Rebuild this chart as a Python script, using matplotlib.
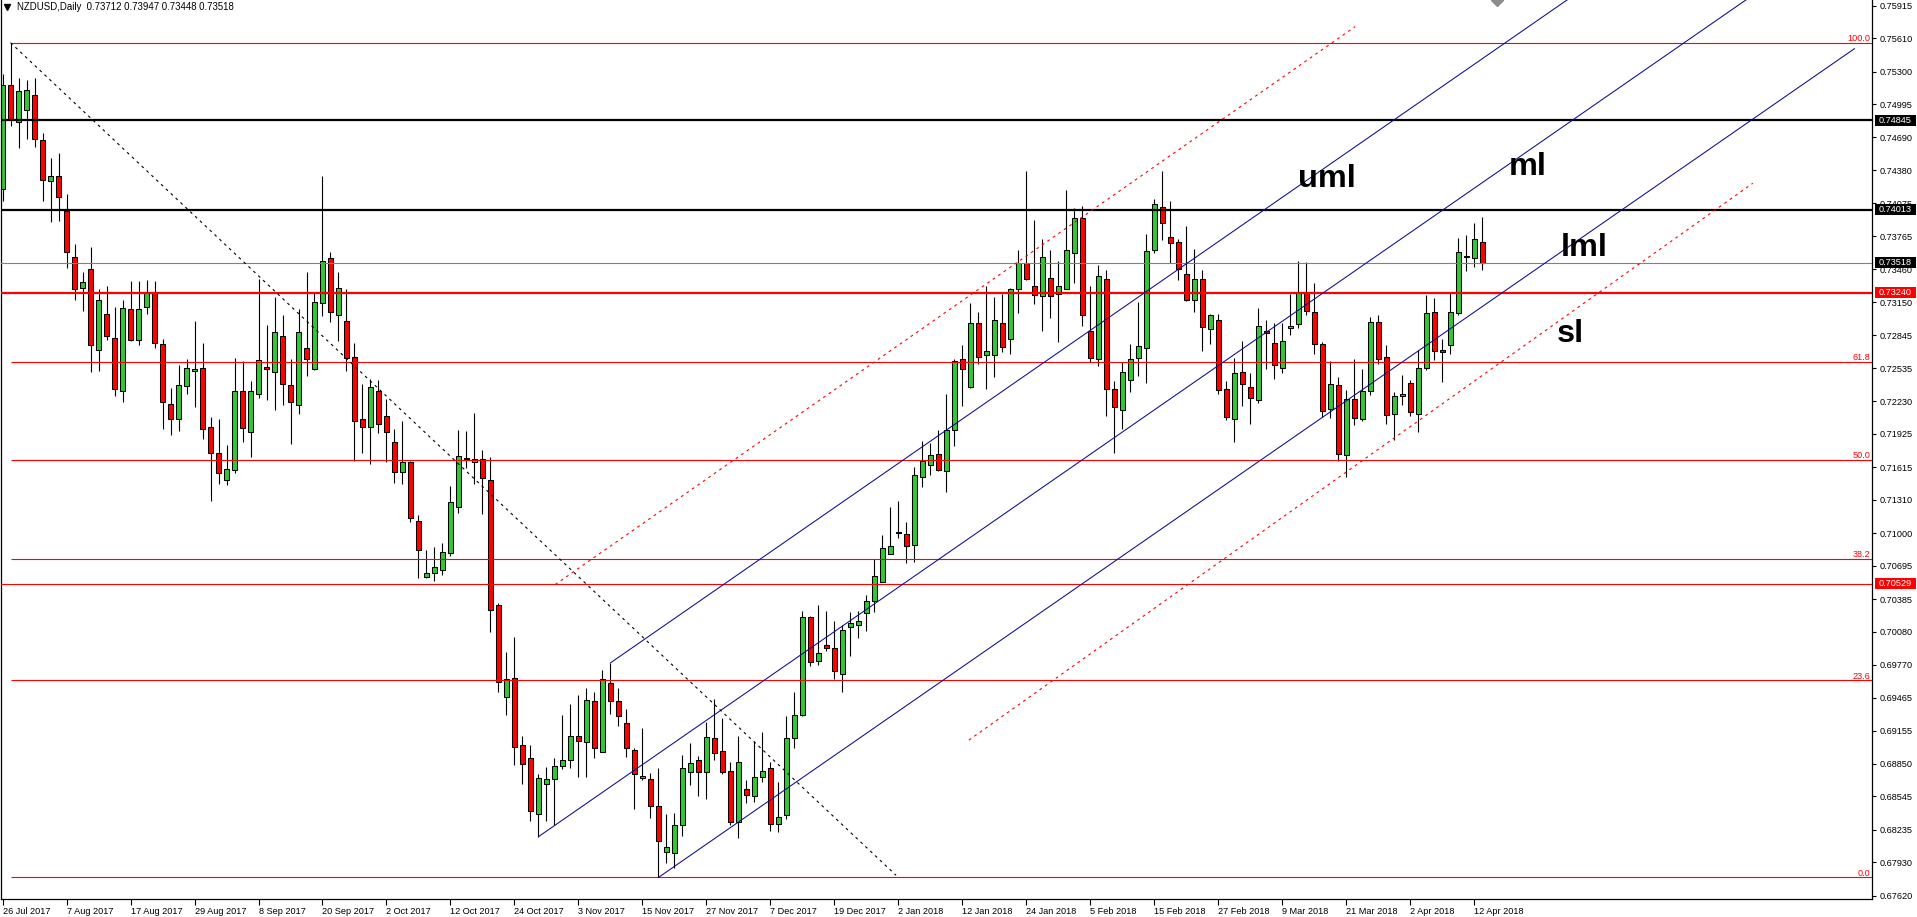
import matplotlib.pyplot as plt
from matplotlib.patches import Rectangle
import numpy as np

plt.rcParams['font.family'] = ['Liberation Sans', 'DejaVu Sans']

# daily candles, 26 Jul 2017 .. 13 Apr 2018
opens = [0.7421, 0.7518, 0.7483, 0.7494, 0.7508, 0.7466, 0.7428, 0.7433, 0.7400, 0.7357,
         0.7328, 0.7346, 0.7271, 0.7304, 0.7282, 0.7232, 0.7309, 0.7280, 0.7311, 0.7325,
         0.7276, 0.7220, 0.7206, 0.7237, 0.7251, 0.7254, 0.7199, 0.7175, 0.7149, 0.7159,
         0.7232, 0.7194, 0.7230, 0.7255, 0.7250, 0.7284, 0.7238, 0.7219, 0.7272, 0.7253,
         0.7314, 0.7356, 0.7303, 0.7298, 0.7264, 0.7206, 0.7199, 0.7232, 0.7209, 0.7185,
         0.7157, 0.7166, 0.7111, 0.7059, 0.7063, 0.7066, 0.7081, 0.7124, 0.7170, 0.7166,
         0.7169, 0.7149, 0.7033, 0.6947, 0.6965, 0.6902, 0.6890, 0.6838, 0.6866, 0.6871,
         0.6883, 0.6888, 0.6911, 0.6905, 0.6943, 0.6896, 0.6960, 0.6943, 0.6923, 0.6898,
         0.6872, 0.6871, 0.6846, 0.6803, 0.6802, 0.6828, 0.6877, 0.6888, 0.6877, 0.6909,
         0.6897, 0.6878, 0.6831, 0.6861, 0.6855, 0.6873, 0.6881, 0.6829, 0.6837, 0.6909,
         0.6930, 0.7022, 0.6981, 0.6996, 0.6993, 0.6969, 0.7012, 0.7014, 0.7025, 0.7037,
         0.7054, 0.7080, 0.7101, 0.7099, 0.7089, 0.7152, 0.7163, 0.7174, 0.7158, 0.7196,
         0.7262, 0.7236, 0.7296, 0.7266, 0.7266, 0.7296, 0.7281, 0.7327, 0.7352, 0.7330,
         0.7321, 0.7338, 0.7323, 0.7327, 0.7361, 0.7394, 0.7288, 0.7262, 0.7337, 0.7234,
         0.7215, 0.7243, 0.7263, 0.7272, 0.7364, 0.7404, 0.7376, 0.7371, 0.7341, 0.7317,
         0.7337, 0.7290, 0.7299, 0.7234, 0.7206, 0.7250, 0.7236, 0.7224, 0.7288, 0.7277,
         0.7254, 0.7291, 0.7295, 0.7325, 0.7306, 0.7276, 0.7216, 0.7238, 0.7173, 0.7225,
         0.7206, 0.7232, 0.7297, 0.7264, 0.7211, 0.7228, 0.7240, 0.7211, 0.7254, 0.7306,
         0.7271, 0.7275, 0.7305, 0.7357, 0.7356, 0.73712]
highs = [0.7528, 0.7557, 0.7524, 0.7522, 0.7524, 0.7473, 0.7450, 0.7454, 0.7416, 0.7369,
         0.7343, 0.7367, 0.7327, 0.7330, 0.7311, 0.7317, 0.7335, 0.7335, 0.7336, 0.7335,
         0.7281, 0.7235, 0.7257, 0.7262, 0.7298, 0.7277, 0.7208, 0.7206, 0.7182, 0.7263,
         0.7260, 0.7242, 0.7337, 0.7294, 0.7320, 0.7303, 0.7262, 0.7309, 0.7343, 0.7325,
         0.7433, 0.7362, 0.7343, 0.7327, 0.7277, 0.7239, 0.7244, 0.7243, 0.7225, 0.7197,
         0.7204, 0.7167, 0.7117, 0.7084, 0.7087, 0.7091, 0.7144, 0.7196, 0.7195, 0.7212,
         0.7177, 0.7171, 0.7035, 0.6989, 0.7003, 0.6911, 0.6902, 0.6875, 0.6882, 0.6890,
         0.6930, 0.6941, 0.6949, 0.6956, 0.6952, 0.6972, 0.6979, 0.6956, 0.6936, 0.6900,
         0.6918, 0.6876, 0.6881, 0.6838, 0.6839, 0.6893, 0.6904, 0.6892, 0.6924, 0.6945,
         0.6928, 0.6887, 0.6911, 0.6870, 0.6906, 0.6915, 0.6887, 0.6868, 0.6929, 0.6952,
         0.7027, 0.7023, 0.7033, 0.7027, 0.7018, 0.7014, 0.7026, 0.7027, 0.7042, 0.7076,
         0.7098, 0.7124, 0.7130, 0.7110, 0.7162, 0.7186, 0.7184, 0.7196, 0.7230, 0.7262,
         0.7275, 0.7314, 0.7306, 0.7330, 0.7320, 0.7323, 0.7328, 0.7364, 0.7437, 0.7392,
         0.7374, 0.7364, 0.7354, 0.7420, 0.7403, 0.7405, 0.7330, 0.7350, 0.7345, 0.7242,
         0.7259, 0.7276, 0.7315, 0.7379, 0.7411, 0.7437, 0.7409, 0.7374, 0.7386, 0.7365,
         0.7345, 0.7304, 0.7304, 0.7242, 0.7263, 0.7279, 0.7249, 0.7310, 0.7299, 0.7296,
         0.7296, 0.7323, 0.7354, 0.7353, 0.7333, 0.7278, 0.7260, 0.7245, 0.7233, 0.7262,
         0.7253, 0.7301, 0.7303, 0.7275, 0.7231, 0.7247, 0.7243, 0.7271, 0.7322, 0.7319,
         0.7281, 0.7324, 0.7375, 0.7378, 0.7389, 0.73947]
lows = [0.7409, 0.7479, 0.7459, 0.7467, 0.7460, 0.7409, 0.7390, 0.7391, 0.7347, 0.7317,
        0.7307, 0.7250, 0.7251, 0.7280, 0.7228, 0.7222, 0.7279, 0.7275, 0.7304, 0.7272,
        0.7197, 0.7191, 0.7195, 0.7230, 0.7217, 0.7188, 0.7130, 0.7146, 0.7145, 0.7156,
        0.7185, 0.7171, 0.7226, 0.7224, 0.7215, 0.7219, 0.7183, 0.7211, 0.7246, 0.7252,
        0.7302, 0.7297, 0.7279, 0.7251, 0.7167, 0.7175, 0.7164, 0.7193, 0.7166, 0.7147,
        0.7146, 0.7110, 0.7058, 0.7058, 0.7055, 0.7061, 0.7079, 0.7119, 0.7161, 0.7146,
        0.7118, 0.7008, 0.6952, 0.6930, 0.6884, 0.6866, 0.6832, 0.6817, 0.6832, 0.6828,
        0.6880, 0.6881, 0.6873, 0.6873, 0.6890, 0.6896, 0.6931, 0.6920, 0.6891, 0.6843,
        0.6870, 0.6834, 0.6779, 0.6792, 0.6788, 0.6818, 0.6865, 0.6855, 0.6852, 0.6888,
        0.6875, 0.6828, 0.6816, 0.6848, 0.6849, 0.6868, 0.6822, 0.6821, 0.6833, 0.6900,
        0.6929, 0.6976, 0.6977, 0.6990, 0.6964, 0.6952, 0.6985, 0.7002, 0.7009, 0.7026,
        0.7054, 0.7080, 0.7095, 0.7072, 0.7073, 0.7143, 0.7154, 0.7158, 0.7138, 0.7181,
        0.7218, 0.7235, 0.7258, 0.7234, 0.7245, 0.7269, 0.7267, 0.7305, 0.7336, 0.7313,
        0.7288, 0.7300, 0.7278, 0.7327, 0.7333, 0.7293, 0.7259, 0.7256, 0.7209, 0.7175,
        0.7197, 0.7231, 0.7246, 0.7240, 0.7361, 0.7373, 0.7352, 0.7336, 0.7316, 0.7306,
        0.7270, 0.7276, 0.7230, 0.7205, 0.7185, 0.7218, 0.7202, 0.7221, 0.7253, 0.7244,
        0.7249, 0.7285, 0.7291, 0.7303, 0.7267, 0.7208, 0.7207, 0.7167, 0.7152, 0.7201,
        0.7204, 0.7229, 0.7258, 0.7202, 0.7187, 0.7219, 0.7209, 0.7194, 0.7252, 0.7261,
        0.7241, 0.7267, 0.7303, 0.7344, 0.7348, 0.73448]
closes = [0.7518, 0.7486, 0.7512, 0.7513, 0.7467, 0.7429, 0.7433, 0.7413, 0.7362, 0.7327,
          0.7334, 0.7275, 0.7317, 0.7284, 0.7234, 0.7310, 0.7280, 0.7309, 0.7325, 0.7277,
          0.7222, 0.7206, 0.7238, 0.7254, 0.7253, 0.7197, 0.7175, 0.7156, 0.7160, 0.7232,
          0.7198, 0.7232, 0.7261, 0.7253, 0.7287, 0.7239, 0.7222, 0.7287, 0.7262, 0.7315,
          0.7354, 0.7306, 0.7328, 0.7263, 0.7204, 0.7199, 0.7236, 0.7202, 0.7194, 0.7157,
          0.7166, 0.7114, 0.7084, 0.7063, 0.7068, 0.7082, 0.7129, 0.7172, 0.7169, 0.7169,
          0.7151, 0.7028, 0.6961, 0.6964, 0.6901, 0.6885, 0.6841, 0.6872, 0.6871, 0.6883,
          0.6888, 0.6911, 0.6906, 0.6944, 0.6900, 0.6964, 0.6943, 0.6929, 0.6900, 0.6875,
          0.6874, 0.6846, 0.6813, 0.6807, 0.6828, 0.6881, 0.6886, 0.6877, 0.6910, 0.6895,
          0.6877, 0.6831, 0.6887, 0.6856, 0.6873, 0.6878, 0.6829, 0.6835, 0.6909, 0.6930,
          0.7022, 0.6980, 0.6988, 0.6993, 0.6971, 0.7010, 0.7016, 0.7018, 0.7037, 0.7060,
          0.7086, 0.7088, 0.7100, 0.7088, 0.7154, 0.7167, 0.7173, 0.7159, 0.7196, 0.7260,
          0.7253, 0.7296, 0.7264, 0.7270, 0.7299, 0.7273, 0.7327, 0.7352, 0.7337, 0.7322,
          0.7357, 0.7321, 0.7330, 0.7364, 0.7394, 0.7303, 0.7263, 0.7340, 0.7234, 0.7217,
          0.7250, 0.7262, 0.7274, 0.7363, 0.7407, 0.7389, 0.7370, 0.7346, 0.7317, 0.7337,
          0.7292, 0.7303, 0.7233, 0.7208, 0.7249, 0.7239, 0.7226, 0.7293, 0.7286, 0.7257,
          0.7279, 0.7293, 0.7325, 0.7307, 0.7276, 0.7214, 0.7239, 0.7174, 0.7225, 0.7207,
          0.7232, 0.7297, 0.7262, 0.7210, 0.7228, 0.7230, 0.7213, 0.7254, 0.7305, 0.7270,
          0.7269, 0.7306, 0.7362, 0.7358, 0.7374, 0.73518]

date_labels = ['26 Jul 2017', '7 Aug 2017', '17 Aug 2017', '29 Aug 2017', '8 Sep 2017',
               '20 Sep 2017', '2 Oct 2017', '12 Oct 2017', '24 Oct 2017', '3 Nov 2017',
               '15 Nov 2017', '27 Nov 2017', '7 Dec 2017', '19 Dec 2017', '2 Jan 2018',
               '12 Jan 2018', '24 Jan 2018', '5 Feb 2018', '15 Feb 2018', '27 Feb 2018',
               '9 Mar 2018', '21 Mar 2018', '2 Apr 2018', '12 Apr 2018']
bars_per_label = 8

price_ticks = [0.75915, 0.75610, 0.75300, 0.74995, 0.74690, 0.74380, 0.74075, 0.73765,
               0.73460, 0.73150, 0.72845, 0.72535, 0.72230, 0.71925, 0.71615, 0.71310,
               0.71000, 0.70695, 0.70385, 0.70080, 0.69770, 0.69465, 0.69155, 0.68850,
               0.68545, 0.68235, 0.67930, 0.67620]

# fibonacci retracement from the 27 Jul high to the 17 Nov low
fib_start_bar = 1
fib_high = 0.7557
fib_low = 0.6779
fib_ratios = [0.0, 23.6, 38.2, 50.0, 61.8, 100.0]

black_levels = [0.74845, 0.74013]
red_thick_level = 0.73240
red_thin_level = 0.70529
bid_price = 0.73518

# pitchfork pivots (bar index, price)
pf_bars = [67, 76, 82]
pf_prices = [0.6817, 0.6979, 0.6779]
pf_end_bar = 231.5

upper_warn_bars = [69.1, 169.1]
upper_warn_prices = [0.7052, 0.7572]
lower_warn_bars = [120.8, 218.8]
lower_warn_prices = [0.6907, 0.7426]
diag_bars = [1, 111.7]
diag_prices = [0.7557, 0.6781]

line_names = ['uml', 'ml', 'lml', 'sl']
name_bars = [161.9, 188.3, 194.8, 194.3]
name_prices = [0.74225, 0.74337, 0.73582, 0.72781]

GREEN = '#32C832'
RED = '#FF0000'
BLUE = '#0A0A96'
FS = 6.6

fig = plt.figure(figsize=(19.17, 9.17), dpi=100)
ax = fig.add_axes([1 / 1917, 18 / 917, 1871 / 1917, 899 / 917])
x_min, x_max = -0.19, 233.7
ax.set_xlim(x_min, x_max)
ax.set_ylim(0.67589, 0.75968)

o = np.array(opens)
h = np.array(highs)
l = np.array(lows)
c = np.array(closes)
x = np.arange(len(o))
up = c >= o

# candles
ax.vlines(x, l, h, color='black', lw=0.8, zorder=2)
body = np.maximum(np.abs(c - o), 0.00003)
ax.bar(x, body, bottom=np.minimum(o, c), width=0.6,
       color=np.where(up, GREEN, RED), edgecolor='black', linewidth=0.75, zorder=2.5)

# horizontal levels
for lv in black_levels:
    ax.axhline(lv, color='black', lw=1.6, zorder=3)
ax.axhline(red_thick_level, color=RED, lw=1.6, zorder=3)
ax.axhline(red_thin_level, color=RED, lw=0.8, zorder=3)
ax.axhline(bid_price, color='#808080', lw=0.8, zorder=3)

# fibonacci
yt = ax.get_yaxis_transform()
for r in fib_ratios:
    p = fib_low + (fib_high - fib_low) * r / 100
    ax.hlines(p, fib_start_bar, x_max, color=RED, lw=0.8, zorder=3)
    ax.text(1 - 1.5 / 1871, p + 0.00017, f'{r:.1f}', transform=yt, ha='right',
            va='baseline', color=RED, fontsize=FS, zorder=4)

# pitchfork
mid_bar = (pf_bars[1] + pf_bars[2]) / 2
mid_price = (pf_prices[1] + pf_prices[2]) / 2
slope = (mid_price - pf_prices[0]) / (mid_bar - pf_bars[0])
for b, p in zip(pf_bars, pf_prices):
    ax.plot([b, pf_end_bar], [p, p + slope * (pf_end_bar - b)], color=BLUE, lw=0.75, zorder=3)

ax.plot(upper_warn_bars, upper_warn_prices, color=RED, lw=0.8, ls=(0, (2.5, 3.5)), zorder=3)
ax.plot(lower_warn_bars, lower_warn_prices, color=RED, lw=0.8, ls=(0, (2.5, 3.5)), zorder=3)
ax.plot(diag_bars, diag_prices, color='black', lw=0.8, ls=(0, (2.5, 3.5)), zorder=3)

for name, b, p in zip(line_names, name_bars, name_prices):
    ax.text(b, p, name, fontsize=23.4, fontweight='bold', ha='left', va='baseline', zorder=4)

# price labels in boxes on the right axis
box_w = 41 / 1871
box_h = 11 * (0.75968 - 0.67589) / 899
for lv, col in [(black_levels[0], 'black'), (black_levels[1], 'black'), (bid_price, 'black'),
                (red_thick_level, RED), (red_thin_level, RED)]:
    ax.add_patch(Rectangle((1.0015, lv - box_h / 2), box_w, box_h, transform=yt,
                           facecolor=col, edgecolor='none', clip_on=False, zorder=5))
    ax.text(1.0035, lv, f'{lv:.5f}', transform=yt, ha='left', va='center', color='white',
            fontsize=FS, clip_on=False, zorder=6)

# header
ax.plot([6 / 1871], [1 - 7 / 899], marker='v', ms=4, color='black',
        transform=ax.transAxes, clip_on=False, zorder=6)
ax.text(16 / 1871, 1 - 7 / 899,
        f'NZDUSD,Daily  {opens[-1]:.5f} {highs[-1]:.5f} {lows[-1]:.5f} {closes[-1]:.5f}',
        transform=ax.transAxes, ha='left', va='center', fontsize=6.9, color='black', zorder=6)
ax.plot([1496 / 1871], [1.0], marker='D', ms=6, color='#8c8c8c',
        transform=ax.transAxes, clip_on=True, zorder=6)

# axes
ax.yaxis.tick_right()
ax.set_yticks(price_ticks, [f'{t:.5f}' for t in price_ticks])
ax.tick_params(axis='y', right=True, left=False, labelright=True, labelleft=False,
               direction='out', length=3, width=0.8, pad=2.5, labelsize=FS)
ax.set_xticks(np.arange(len(date_labels)) * bars_per_label, date_labels)
ax.tick_params(axis='x', direction='out', length=4, width=0.8, pad=1.5, labelsize=FS)
for lbl in ax.get_xticklabels():
    lbl.set_ha('left')
ax.spines['top'].set_visible(False)
for s in ['left', 'right', 'bottom']:
    ax.spines[s].set_linewidth(0.9)

fig.savefig('out.png', dpi=100)
